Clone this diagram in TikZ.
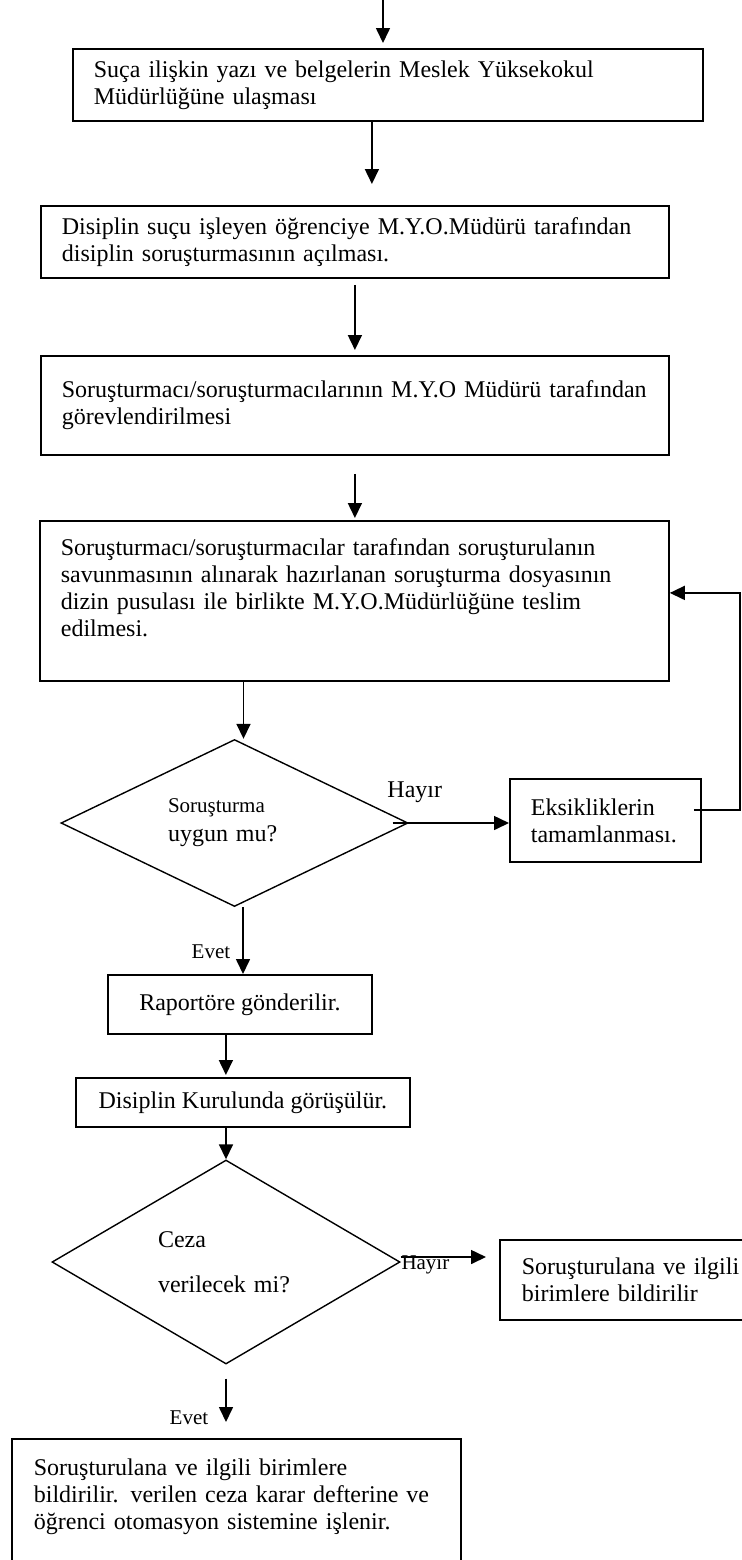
\documentclass[tikz,border=0pt]{standalone}
\usepackage{fontspec}
\setmainfont{Liberation Serif}
\usetikzlibrary{positioning,arrows.meta,shapes.geometric}

\begin{document}
\begin{tikzpicture}[
    x=0.5pt, y=-0.5pt,
    kutu/.style={draw, line width=0.9pt, anchor=north west, align=left, inner xsep=10.5pt, inner ysep=0pt, font=\fontsize{12}{13.5}\selectfont},
    tek/.style={draw, line width=0.9pt, anchor=north west, inner sep=0pt, font=\fontsize{12}{13.5}\selectfont},
    acik/.style={kutu, draw=none},
    karar/.style={draw, diamond, aspect=2, line width=0.7pt, inner sep=0pt, align=left, font=\fontsize{12}{13.5}\selectfont},
    ok/.style={-{Triangle[width=7pt,length=7.5pt]}, line width=0.8pt},
    cerceve/.style={line width=0.9pt},
    etiket/.style={inner sep=0pt, font=\fontsize{12}{13.5}\selectfont},
    kucuk/.style={inner sep=0pt, font=\fontsize{10.5}{12}\selectfont}
]
\useasboundingbox (0,0) rectangle (742,1560);

\node[kutu, text width=294pt, minimum height=36pt] (k1) at (72,48) {Suça ilişkin yazı ve belgelerin Meslek Yüksekokul\\Müdürlüğüne ulaşması};
\node[kutu, text width=293pt, minimum height=36pt] (k2) at (40,205) {Disiplin suçu işleyen öğrenciye M.Y.O.Müdürü tarafından\\disiplin soruşturmasının açılması.};
\node[kutu, text width=293pt, minimum height=49.5pt] (k3) at (40,355) {Soruşturmacı/soruşturmacılarının M.Y.O Müdürü tarafından\\görevlendirilmesi};
\node[kutu, text width=293.5pt, minimum height=80pt] (k4) at (39,520) {Soruşturmacı/soruşturmacılar tarafından soruşturulanın\\savunmasının alınarak hazırlanan soruşturma dosyasının\\dizin pusulası ile birlikte M.Y.O.Müdürlüğüne teslim\\edilmesi.\\\mbox{}};
\node[karar, minimum width=173.5pt, minimum height=83.5pt, text width=66.5pt] (d1) at (234.5,823) {{\fontsize{10.5}{13}\selectfont Soruşturma}\\[1pt]uygun mu?};
\node[kutu, text width=74.5pt, minimum height=41.5pt] (e1) at (509,778) {Eksikliklerin\\tamamlanması.};
\node[tek, minimum width=132pt, minimum height=29.5pt] (r1) at (107,974) {Raportöre gönderilir.};
\node[tek, minimum width=167pt, minimum height=24.5pt] (k5) at (75,1077) {Disiplin Kurulunda görüşülür.};
\node[karar, minimum width=174pt, minimum height=102pt, text width=68pt] (d2) at (226,1262) {Ceza\\[9pt]verilecek mi?};
\node[acik, text width=110pt, minimum height=39pt] (b1) at (500,1240) {Soruşturulana ve ilgili\\birimlere bildirilir};
\node[acik, text width=202.5pt, minimum height=56.5pt] (c1) at (12,1439) {Soruşturulana ve ilgili birimlere\\bildirilir. verilen ceza karar defterine ve\\öğrenci otomasyon sistemine işlenir.};

\coordinate (bas) at (383,0);
\coordinate (ray) at (740,700);
\coordinate (sag) at (742,0);
\coordinate (alt) at (0,1560);
\coordinate (k1alt) at ([xshift=-8pt]k1.south);
\coordinate (d1ok) at ([xshift=4.5pt]d1.north);
\coordinate (d1alt) at ([xshift=4.25pt]d1.south);
\coordinate (r1alt) at ([xshift=-7pt]r1.south);
\coordinate (d2sag) at ([yshift=2.5pt]d2.east);

\draw[cerceve] (b1.north -| sag) -- (b1.north west) -- (b1.south west) -- (b1.south -| sag);
\draw[cerceve] (c1.south west |- alt) -- (c1.north west) -- (c1.north east) -- (c1.south east |- alt);

\draw[ok, shorten >=2.5pt] (bas) -- (bas |- k1.north);
\draw[ok, shorten >=10.5pt] (k1alt) -- (k1alt |- k2.north);
\draw[ok, shorten <=3pt, shorten >=2.5pt] (k2.south) -- (k2.south |- k3.north);
\draw[ok, shorten <=9pt, shorten >=1pt] (k3.south) -- (k3.south |- k4.north);
\draw[ok] (d1ok |- k4.south) -- (d1ok);
\draw[ok] ([xshift=-8pt]d1.east) -- (d1.east -| e1.west) node[etiket, pos=0.19, above=10pt] (h1) {Hayır};
\draw[ok] ([xshift=-4pt,yshift=5.25pt]e1.east) -| (ray) |- ([yshift=4pt]k4.east);
\draw[ok] (d1alt) -- (d1alt |- r1.north) node[kucuk, pos=0.67, left=6pt] (ev1) {Evet};
\draw[ok, shorten >=1pt] (r1alt) -- (r1alt |- k5.north);
\draw[ok] (k5.south -| d2.north) -- (d2.north);
\draw[ok, shorten >=7pt] (d2sag) -- (d2sag -| b1.west) node[kucuk, pos=0, anchor=west, yshift=-4pt] (h2) {Hayır};
\draw[ok, shorten <=7pt, shorten >=8.5pt] (d2.south) -- (d2.south |- c1.north) node[kucuk, pos=0.72, left=8.5pt] (ev2) {Evet};
\end{tikzpicture}
\end{document}
